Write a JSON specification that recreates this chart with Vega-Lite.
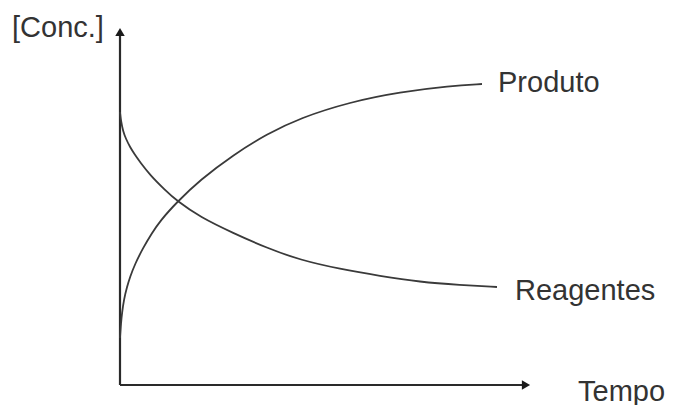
{
  "$schema": "https://vega.github.io/schema/vega-lite/v6.json",
  "width": 412,
  "height": 360,
  "autosize": "none",
  "padding": {"left": 120, "top": 25, "right": 141, "bottom": 20},
  "background": "white",
  "config": {"view": {"stroke": null}},
  "datasets": {
    "curves": [
      {"serie": "Produto", "t": 0, "c": 47},
      {"serie": "Produto", "t": 1, "c": 62},
      {"serie": "Produto", "t": 2, "c": 72},
      {"serie": "Produto", "t": 4, "c": 86},
      {"serie": "Produto", "t": 7, "c": 98},
      {"serie": "Produto", "t": 10, "c": 108},
      {"serie": "Produto", "t": 15, "c": 121},
      {"serie": "Produto", "t": 23, "c": 137},
      {"serie": "Produto", "t": 32, "c": 152},
      {"serie": "Produto", "t": 40, "c": 164},
      {"serie": "Produto", "t": 57, "c": 183},
      {"serie": "Produto", "t": 80, "c": 205},
      {"serie": "Produto", "t": 113, "c": 230},
      {"serie": "Produto", "t": 147, "c": 251},
      {"serie": "Produto", "t": 180, "c": 267},
      {"serie": "Produto", "t": 230, "c": 283},
      {"serie": "Produto", "t": 280, "c": 293},
      {"serie": "Produto", "t": 330, "c": 299},
      {"serie": "Produto", "t": 362, "c": 301},
      {"serie": "Reagentes", "t": 0, "c": 273},
      {"serie": "Reagentes", "t": 1, "c": 264},
      {"serie": "Reagentes", "t": 3, "c": 254},
      {"serie": "Reagentes", "t": 6, "c": 246},
      {"serie": "Reagentes", "t": 10, "c": 238},
      {"serie": "Reagentes", "t": 15, "c": 230},
      {"serie": "Reagentes", "t": 20, "c": 223},
      {"serie": "Reagentes", "t": 30, "c": 210},
      {"serie": "Reagentes", "t": 45, "c": 195},
      {"serie": "Reagentes", "t": 57, "c": 184},
      {"serie": "Reagentes", "t": 80, "c": 168},
      {"serie": "Reagentes", "t": 113, "c": 152},
      {"serie": "Reagentes", "t": 147, "c": 137},
      {"serie": "Reagentes", "t": 180, "c": 125},
      {"serie": "Reagentes", "t": 220, "c": 116},
      {"serie": "Reagentes", "t": 260, "c": 109},
      {"serie": "Reagentes", "t": 300, "c": 103},
      {"serie": "Reagentes", "t": 340, "c": 100},
      {"serie": "Reagentes", "t": 377, "c": 98}
    ],
    "axes": [
      {"eixo": "x", "t": 0, "c": 0, "t2": 404, "c2": 0},
      {"eixo": "y", "t": 0, "c": 0, "t2": 0, "c2": 350}
    ],
    "heads": [
      {"eixo": "x", "t": 406, "c": 0, "forma": "triangle-right"},
      {"eixo": "y", "t": 0, "c": 353, "forma": "triangle-up"}
    ],
    "labels": [
      {"texto": "Produto", "t": 378, "c": 293},
      {"texto": "Reagentes", "t": 395, "c": 85},
      {"texto": "Tempo", "t": 458, "c": -16},
      {"texto": "[Conc.]", "t": -108, "c": 348}
    ]
  },
  "layer": [
    {
      "data": {"name": "axes"},
      "mark": {"type": "rule", "color": "#2a2a2a", "strokeWidth": 2.2, "clip": false},
      "encoding": {
        "x": {"field": "t", "type": "quantitative", "scale": {"domain": [0, 412], "nice": false, "zero": false}, "axis": null},
        "y": {"field": "c", "type": "quantitative", "scale": {"domain": [0, 360], "nice": false, "zero": false}, "axis": null},
        "x2": {"field": "t2"},
        "y2": {"field": "c2"}
      }
    },
    {
      "data": {"name": "heads"},
      "mark": {"type": "point", "filled": true, "color": "#1a1a1a", "size": 90, "opacity": 1, "clip": false},
      "encoding": {
        "x": {"field": "t", "type": "quantitative"},
        "y": {"field": "c", "type": "quantitative"},
        "shape": {"field": "forma", "type": "nominal", "scale": null, "legend": null}
      }
    },
    {
      "data": {"name": "curves"},
      "mark": {"type": "line", "interpolate": "basis", "color": "#3a3a3a", "strokeWidth": 1.8, "clip": false},
      "encoding": {
        "x": {"field": "t", "type": "quantitative"},
        "y": {"field": "c", "type": "quantitative"},
        "detail": {"field": "serie", "type": "nominal"},
        "order": {"field": "t", "type": "quantitative"}
      }
    },
    {
      "data": {"name": "labels"},
      "mark": {"type": "text", "align": "left", "baseline": "alphabetic", "font": "Liberation Sans", "fontSize": 29, "color": "#333333", "clip": false},
      "encoding": {
        "x": {"field": "t", "type": "quantitative"},
        "y": {"field": "c", "type": "quantitative"},
        "text": {"field": "texto", "type": "nominal"}
      }
    }
  ]
}
